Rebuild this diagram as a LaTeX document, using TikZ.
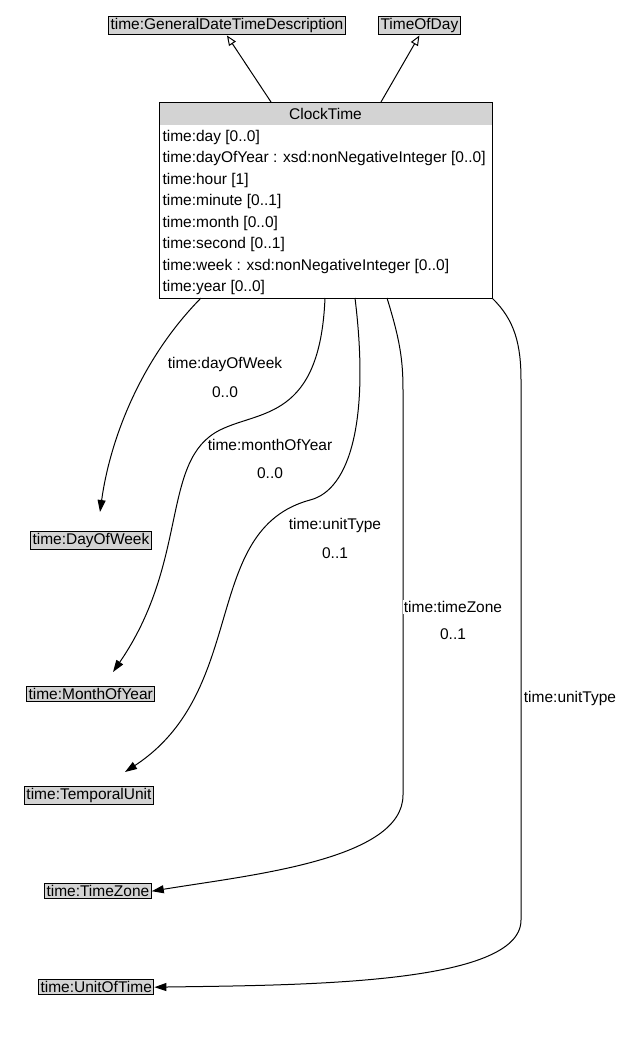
\documentclass[tikz,border=0pt]{standalone}
\usepackage{fontspec}
\setmainfont{Liberation Sans}
\usetikzlibrary{arrows.meta, positioning}
\definecolor{boxgrey}{RGB}{211, 211, 211}

\begin{document}
\begin{tikzpicture}[x=1pt, y=-1pt, line width=1pt, font=\fontsize{15.5}{18}\selectfont,
  classbox/.style={draw, fill=boxgrey, inner sep=2pt, anchor=north west},
  isa/.style={-{Triangle[open, length=10pt, width=8pt]}},
  rel/.style={-{Triangle[length=12pt, width=8pt]}},
  tag/.style={fill=white, inner sep=1pt}]
  \useasboundingbox (0, 0) rectangle (625, 1042);

  \node[classbox] (gdtd) at (108, 16) {time:GeneralDateTimeDescription};
  \node[classbox] (tod) at (378, 16) {TimeOfDay};

  % ClockTime with its attributes
  \fill[boxgrey] (159.5, 102.5) rectangle (491.5, 125);
  \draw (159, 102) rectangle (492, 298);
  \node (clock) at (325.5, 114) {ClockTime};
  \foreach \attr [count=\i] in {time:day [0..0],
      time:dayOfYear : xsd:nonNegativeInteger [0..0], time:hour [1],
      time:minute [0..1], time:month [0..0], time:second [0..1],
      time:week : xsd:nonNegativeInteger [0..0], time:year [0..0]}
    \node[anchor=west, inner sep=1pt] (attr\i) at (161, 115.5 + 21.5 * \i) {\attr};

  \draw[isa] (271, 102) -- (gdtd.south);
  \draw[isa] (381, 102) -- (tod.south);

  \node[classbox] (dow) at (30, 531) {time:DayOfWeek};
  \node[classbox] (moy) at (26, 686) {time:MonthOfYear};
  \node[classbox] (tu) at (24, 786) {time:TemporalUnit};
  \node[classbox] (tz) at (44, 883) {time:TimeZone};
  \node[classbox] (uot) at (38, 979) {time:UnitOfTime};

  \draw[rel] (201, 298) .. controls (140, 360) and (110, 440) .. (100, 512);
  \draw[rel] (325, 298) .. controls (320, 420) and (260, 410) .. (220, 430)
    .. controls (160, 460) and (190, 560) .. (113, 672);
  \draw[rel] (355, 298) .. controls (370, 420) and (350, 490) .. (310, 500)
    .. controls (200, 530) and (250, 690) .. (125, 772);
  \draw[rel] (387, 298) .. controls (400, 340) and (403, 360) .. (403, 390)
    -- (403, 795) .. controls (403, 860) and (250, 875) .. (tz.east);
  \draw[rel] (492, 298) .. controls (515, 320) and (521, 345) .. (521, 380)
    -- (521, 920) .. controls (521, 985) and (300, 985) .. (uot.east);

  \node (l1) at (225, 364) {time:dayOfWeek};
  \node (m1) at (225, 392) {0..0};
  \node (l2) at (270, 445) {time:monthOfYear};
  \node (m2) at (270, 473) {0..0};
  \node (l3) at (335, 525) {time:unitType};
  \node (m3) at (335, 553) {0..1};
  \node[tag] (l4) at (453, 607) {time:timeZone};
  \node (m4) at (453, 634) {0..1};
  \node[tag] (l5) at (570, 698) {time:unitType};
\end{tikzpicture}
\end{document}
